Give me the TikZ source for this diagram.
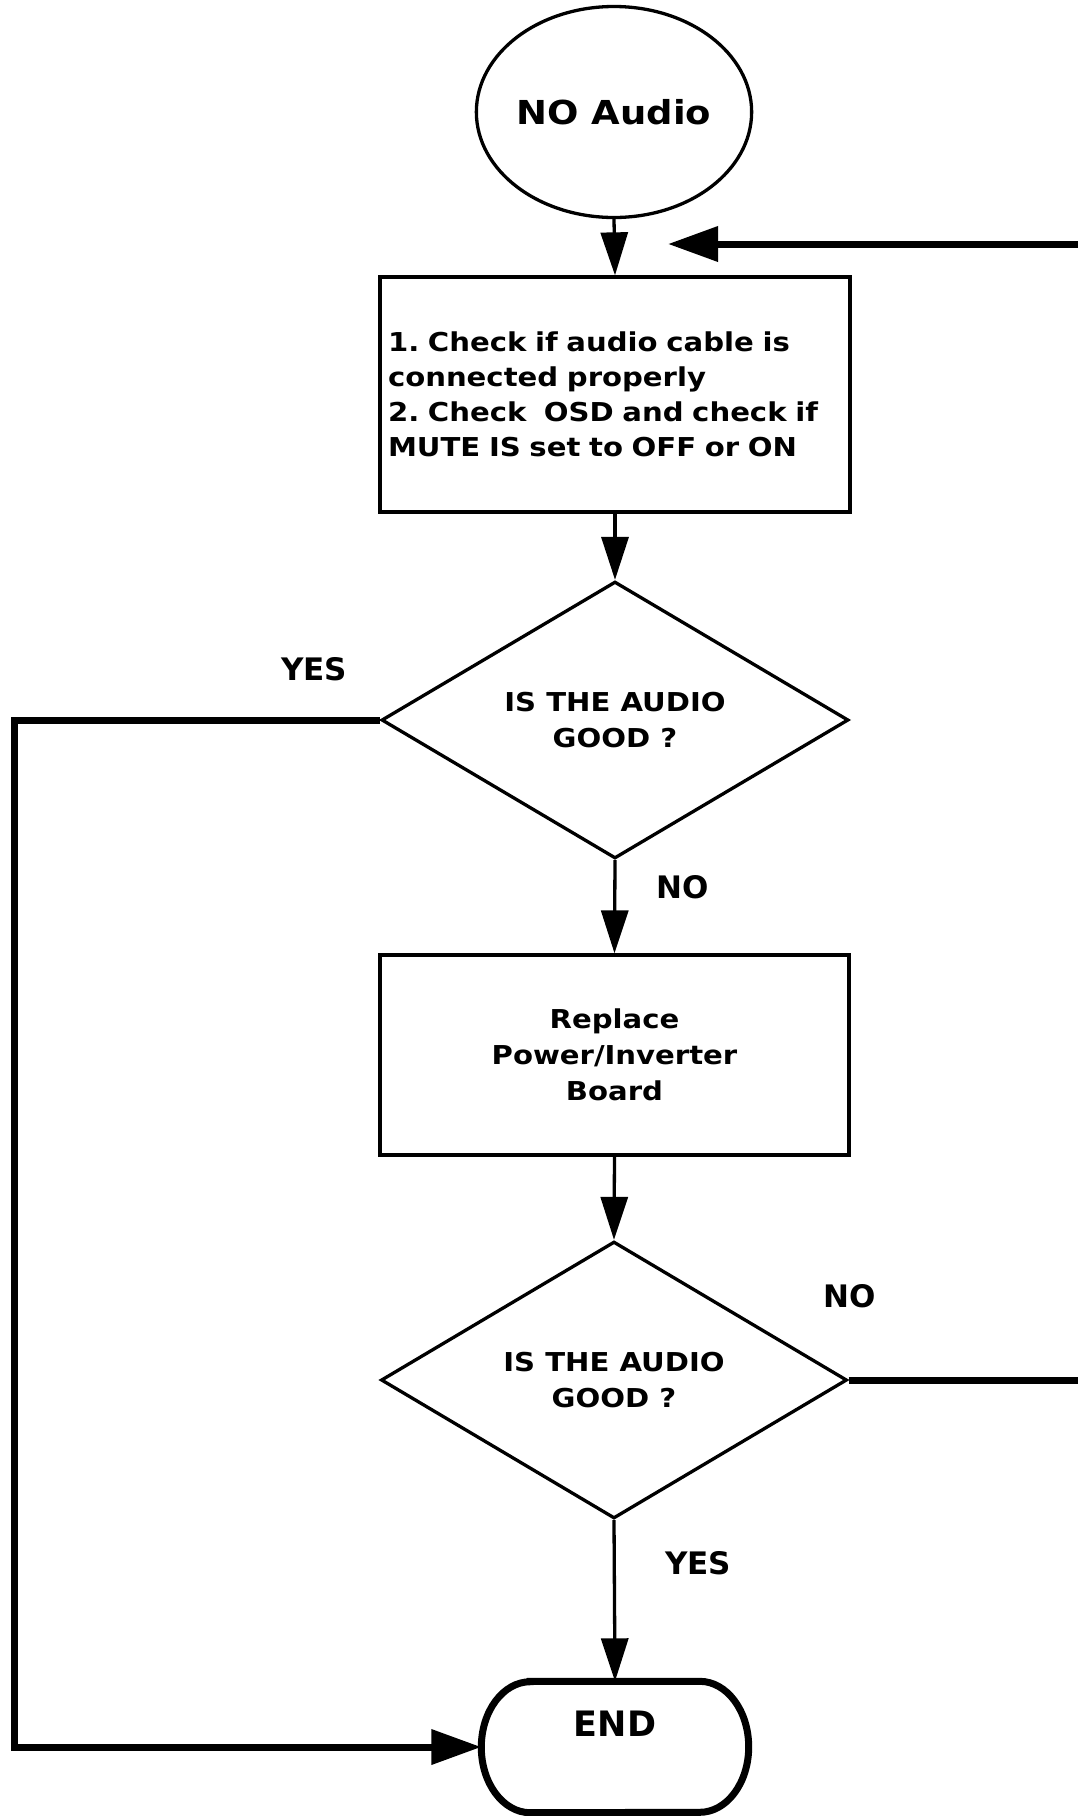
\documentclass[tikz,border=0pt]{standalone}
\usepackage{fontspec}
\newfontfamily\bodyfont{DejaVu Sans}[FakeStretch=1.12]
\newfontfamily\lblfont{DejaVu Sans}
\usetikzlibrary{shapes.geometric,arrows.meta,calc}
\frenchspacing
\begin{document}
\begin{tikzpicture}[x=1pt,y=-1pt,
  every node/.style={text=black},
  startshape/.style={draw,ellipse,line width=3.3pt,minimum width=268pt,minimum height=211pt,inner sep=0pt,
    font=\bodyfont\bfseries\fontsize{33pt}{40pt}\selectfont},
  boxshape/.style={draw,rectangle,line width=3.3pt,inner sep=8pt},
  dec/.style={draw,diamond,line width=3.3pt,align=center,inner sep=0pt,
    font=\bodyfont\bfseries\fontsize{26pt}{36pt}\selectfont},
  endframe/.style={rectangle,draw=none,inner sep=0pt,minimum width=267pt,minimum height=131pt},
  lbl/.style={font=\lblfont\bfseries\fontsize{31pt}{36pt}\selectfont,inner sep=0pt},
  endlbl/.style={font=\lblfont\bfseries\fontsize{35pt}{40pt}\selectfont,inner sep=0pt},
  thinarrow/.style={line width=3.3pt,-{Triangle[length=43pt,width=27pt]}},
  thickline/.style={line width=7pt},
  thickarrow/.style={line width=7pt,-{Triangle[length=50pt,width=34pt]}}
]
\useasboundingbox (0,0) rectangle (1077,1816);

% nodes
\node[startshape] (start) at (614,112) {\raisebox{-2pt}{NO Audio}};

\node[boxshape,minimum width=470pt,minimum height=235pt,text width=454pt,align=left,
  font=\bodyfont\bfseries\fontsize{26pt}{35pt}\selectfont] (check) at (615,394.5)
  {1. Check if audio cable is\\connected properly\\2. Check\ \ OSD and check if\\MUTE IS set to OFF or ON};

\node[dec,minimum width=467pt,minimum height=266pt] (d1) at (615,720) {IS THE AUDIO\\GOOD ?};

\node[boxshape,minimum width=469pt,minimum height=200pt,align=center,
  font=\bodyfont\bfseries\fontsize{26pt}{36pt}\selectfont] (replace) at (614.5,1055)
  {Replace\\Power/Inverter\\Board};

\node[dec,minimum width=466pt,minimum height=266pt] (d2) at (614,1380) {IS THE AUDIO\\GOOD ?};

\node[endframe] (end) at (615,1747) {};
\draw[line width=7pt] ([xshift=49pt]end.north west) -- ([xshift=-49pt]end.north east)
  arc[start angle=-90,end angle=90,x radius=49,y radius=65.5]
  -- ([xshift=49pt]end.south west)
  arc[start angle=90,end angle=270,x radius=49,y radius=65.5] -- cycle;
\node[endlbl] (endtxt) at (615,1724) {END};

% labels
\node[lbl] (yes1) at (314,669) {YES};
\node[lbl] (no1) at (683,887) {NO};
\node[lbl] (no2) at (850,1296) {NO};
\node[lbl] (yes2) at (698,1563) {YES};

% free ends
\coordinate (retin) at (1082,244);
\coordinate (rettip) at (668,244);
\coordinate (yesturn) at (14,720);
\coordinate (noout) at (1082,1380);

% connectors
\draw[thinarrow] (start.south) -- (check.north);
\draw[thinarrow] (check.south) -- (d1.north);
\draw[thinarrow] (d1.south) -- (replace.north);
\draw[thinarrow] (replace.south) -- (d2.north);
\draw[thinarrow] (d2.south) -- (end.north);
\draw[thickarrow] (retin) -- (rettip);
\draw[thickarrow] (d1.west) -- (yesturn) |- (end.west);
\draw[thickline] (d2.east) -- (noout);
\end{tikzpicture}
\end{document}
